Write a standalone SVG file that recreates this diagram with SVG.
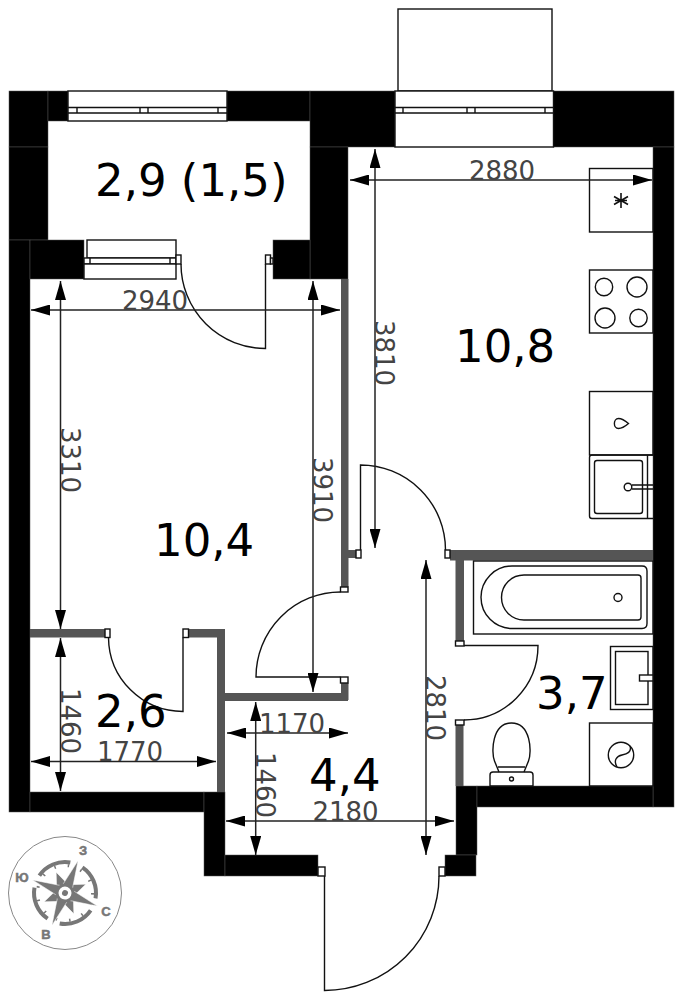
<svg xmlns="http://www.w3.org/2000/svg" width="683" height="1000" viewBox="0 0 683 1000">
<style>
.w{fill:#000;stroke:#555;stroke-width:.5}
.g{fill:#555}
.o{fill:#fff;stroke:#111;stroke-width:1.4}
.l{fill:none;stroke:#111;stroke-width:1.4}
.d{fill:none;stroke:#222;stroke-width:1.5;marker-start:url(#a);marker-end:url(#a)}
.n{font-family:"DejaVu Sans",sans-serif;font-size:26px;fill:#444;text-anchor:middle}
.r{font-family:"DejaVu Sans",sans-serif;font-size:45px;fill:#000}
.c{font-family:"Liberation Sans",sans-serif;font-size:13px;font-weight:bold;fill:#777;stroke:#777;stroke-width:.5;text-anchor:middle}
</style>
<defs>
<marker id="a" markerUnits="userSpaceOnUse" markerWidth="19" markerHeight="11" refX="19" refY="5.5" orient="auto-start-reverse"><path d="M19 5.500L0 0V11Z" fill="#000"/></marker>
</defs>
<rect width="683" height="1000" fill="#fff"/>
<g id="walls">
<rect class="w" x="9" y="91" width="39" height="56"/>
<rect class="w" x="9" y="147" width="39" height="93"/>
<rect class="w" x="48" y="91" width="20" height="30"/>
<rect class="w" x="227" y="91" width="83" height="30"/>
<rect class="w" x="310" y="91" width="85" height="56"/>
<rect class="w" x="553" y="91" width="121" height="56"/>
<rect class="w" x="653" y="147" width="21" height="660"/>
<rect class="w" x="310" y="147" width="38" height="132"/>
<rect class="w" x="9" y="240" width="21" height="572"/>
<rect class="w" x="30" y="240" width="54" height="39"/>
<rect class="w" x="273" y="240" width="37" height="39"/>
<rect class="w" x="30" y="792" width="174" height="20"/>
<rect class="w" x="204" y="792" width="21" height="84"/>
<rect class="w" x="225" y="855" width="93" height="21"/>
<rect class="w" x="456" y="786" width="21" height="69"/>
<rect class="w" x="445" y="855" width="31" height="21"/>
<rect class="w" x="477" y="786" width="176" height="21"/>
<rect class="g" x="341" y="279" width="7.500" height="308"/>
<rect class="g" x="348" y="550" width="8" height="8"/>
<rect class="g" x="450" y="550" width="203" height="10.500"/>
<rect class="g" x="455.500" y="550" width="8.500" height="91"/>
<rect class="g" x="455.500" y="725" width="8" height="61"/>
<rect class="g" x="30" y="629" width="75" height="8.500"/>
<rect class="g" x="189" y="629" width="36" height="8.500"/>
<rect class="g" x="217" y="637" width="8" height="155"/>
<rect class="g" x="225" y="693" width="123" height="8"/>
<rect class="g" x="341" y="683" width="7.500" height="17"/>
</g>
<g id="balcony-box"><rect class="l" x="398" y="9" width="154" height="82"/></g>
<g id="window-1">
<rect class="o" x="68" y="91" width="159" height="30"/>
<path class="l" d="M68 107.500H227M68 113H227M77 107.500V113M140 107.500V113M148 107.500V113M218 107.500V113"/>
</g>
<g id="window-2">
<rect class="o" x="395" y="91" width="158.500" height="56"/>
<path class="l" d="M395 107.500H553M395 113H553M403 107.500V113M467 107.500V113M475 107.500V113M545 107.500V113"/>
</g>
<g id="window-3">
<rect class="o" x="87" y="240" width="89" height="18"/>
<rect class="o" x="84" y="258" width="92" height="6"/>
<rect class="o" x="84" y="264" width="92" height="15"/>
<path class="l" d="M90 258V264M170 258V264"/>
</g>
<g id="door-balcony">
<rect class="o" x="176" y="255" width="5" height="9"/>
<rect class="o" x="265.500" y="255" width="5" height="9"/>
<rect class="o" x="270.500" y="258" width="2.500" height="6"/>
<path class="l" d="M181 264A84.500 84.500 0 0 0 265.500 348.500V264"/>
</g>
<g id="door-room">
<rect class="o" x="340.500" y="587" width="7.500" height="5"/>
<rect class="o" x="340.500" y="677" width="7.500" height="6"/>
<path class="l" d="M340.500 592A84.500 85 0 0 0 256 677H340.500"/>
</g>
<g id="door-closet">
<rect class="o" x="105" y="629" width="5" height="8.500"/>
<rect class="o" x="183" y="629" width="5.500" height="8.500"/>
<path class="l" d="M108.500 637.500A74.500 74.500 0 0 0 183 711.500V637.500"/>
</g>
<g id="door-kitchen">
<rect class="o" x="356" y="550" width="5" height="8"/>
<rect class="o" x="445" y="550" width="5" height="8"/>
<path class="l" d="M360.500 550V465A85 85 0 0 1 445.500 550"/>
</g>
<g id="door-bath">
<rect class="o" x="455.500" y="641" width="8.500" height="5"/>
<rect class="o" x="455.500" y="720" width="8.500" height="5"/>
<path class="l" d="M464 645.500H538A74 74.500 0 0 1 464 720"/>
</g>
<g id="door-entrance">
<rect class="o" x="318" y="867" width="7" height="9"/>
<rect class="o" x="439" y="867" width="6" height="9"/>
<path class="l" d="M324.500 876V990.500A114.500 114.500 0 0 0 439 876"/>
</g>
<g id="fridge">
<rect class="l" x="589.500" y="168.500" width="63.500" height="63.500"/>
<path class="l" d="M621 193V208M614 196.500L628 204.500M614 204.500L628 196.500M615 200.500H627" style="stroke-width:1.600"/>
</g>
<g id="stove">
<rect class="l" x="589.500" y="270" width="63.500" height="63"/>
<circle class="l" cx="604" cy="287" r="8.700"/>
<circle class="l" cx="637" cy="287" r="10"/>
<circle class="l" cx="605" cy="318" r="10"/>
<circle class="l" cx="638.500" cy="318" r="8.700"/>
</g>
<g id="counter">
<rect class="l" x="589.500" y="391.500" width="63.500" height="63.500"/>
<path class="l" d="M628.500 423.500C625 420.500 621 418.500 618.500 418.500C613 418.500 613 428.500 618.500 428.500C621 428.500 625 426.500 628.500 423.500Z"/>
</g>
<g id="sink">
<path class="l" d="M653 455H592Q589.500 455 589.500 457.500V516Q589.500 518.500 592 518.500H653M647.500 455V518.500"/>
<rect class="l" x="594.500" y="460.500" width="48" height="53" rx="2.500"/>
<path class="l" d="M632 485H653M632 489H653"/>
<circle class="o" cx="628" cy="487" r="3.800"/>
</g>
<g id="bath">
<rect class="l" x="473.500" y="561" width="179.500" height="73"/>
<path class="l" d="M512 566H642Q647 566 647 571V623.500Q647 628.500 642 628.500H512A31 31.250 0 0 1 512 566Z"/>
<path class="l" d="M524 575H638Q641 575 641 578V617Q641 620 638 620H524A22.500 22.500 0 0 1 524 575Z"/>
<circle class="l" cx="618" cy="597.500" r="4"/>
</g>
<g id="wash-basin">
<rect class="l" x="610.500" y="646.500" width="42.500" height="63"/>
<rect class="l" x="615.500" y="651.500" width="32.500" height="53"/>
<rect class="o" x="639.500" y="675" width="13.500" height="6"/>
</g>
<g id="washer">
<rect class="l" x="589.500" y="723" width="63.500" height="63"/>
<circle class="l" cx="621" cy="755" r="12.700"/>
<path class="l" d="M630 746C632 752 627 754 622 755C617 756 613 760 617 767"/>
</g>
<g id="toilet">
<path class="l" d="M490 786V775Q490 772 493 772H530Q533 772 533 775V786Z"/>
<circle class="l" cx="511.500" cy="779" r="2"/>
<path class="l" d="M499 772L494.500 761C491 752 492 723 511.500 723C531 723 532 752 528.500 761L524 772M498 767H525"/>
</g>
<g id="dimensions">
<path class="d" d="M31 310H340"/>
<path class="d" d="M60.500 281V629"/>
<path class="d" d="M313 281V692"/>
<path class="d" d="M375 149V548"/>
<path class="d" d="M350 180H652"/>
<path class="d" d="M426 560V855"/>
<path class="d" d="M60.500 638V791"/>
<path class="d" d="M31 761.500H216"/>
<path class="d" d="M227 733H348"/>
<path class="d" d="M255.700 702V855"/>
<path class="d" d="M226 821H454"/>
<text class="n" x="155" y="310">2940</text>
<text class="n" x="502" y="180">2880</text>
<text class="n" x="130" y="761">1770</text>
<text class="n" x="292" y="733">1170</text>
<text class="n" x="345.500" y="821">2180</text>
<text class="n" transform="translate(61 460) rotate(90)">3310</text>
<text class="n" transform="translate(313 490) rotate(90)">3910</text>
<text class="n" transform="translate(375 353) rotate(90)">3810</text>
<text class="n" transform="translate(426 708) rotate(90)">2810</text>
<text class="n" transform="translate(61 721) rotate(90)">1460</text>
<text class="n" transform="translate(256 785) rotate(90)">1460</text>
</g>
<g id="room-labels">
<text class="r" x="95" y="196">2,9 (1,5)</text>
<text class="r" x="455" y="362">10,8</text>
<text class="r" x="154" y="556">10,4</text>
<text class="r" x="95" y="727">2,6</text>
<text class="r" x="536" y="709">3,7</text>
<text class="r" x="309" y="791">4,4</text>
</g>
<g id="compass">
<circle cx="65" cy="893" r="56.500" fill="none" stroke="#888" stroke-width="1"/>
<g transform="rotate(22 65 893)" fill="#777">
<path d="M71.500 862.700A31 31 0 0 1 95.300 886.500M95.300 899.500A31 31 0 0 1 71.500 923.300M58.500 923.300A31 31 0 0 1 34.700 899.500M34.700 886.500A31 31 0 0 1 58.500 862.700" fill="none" stroke="#777" stroke-width="4"/>
<circle cx="65" cy="893" r="27.500" fill="none" stroke="#777" stroke-width="3" stroke-dasharray="1.500 12"/>
<path d="M49 877L65 884L81 877L74 893L81 909L65 902L49 909L56 893Z" stroke="#fff" stroke-width=".5"/>
<path d="M65 858L70.500 887.500L100 893L70.500 898.500L65 928L59.500 898.500L30 893L59.500 887.500Z" stroke="#fff" stroke-width=".5"/>
<circle cx="65" cy="893" r="8" fill="#fff" stroke="#777" stroke-width="3"/>
<circle cx="65" cy="893" r="3"/>
</g>
<text class="c" x="83" y="855">З</text>
<text class="c" x="22" y="881.500">Ю</text>
<text class="c" x="106" y="915.500">С</text>
<text class="c" x="46" y="939">В</text>
</g>
</svg>
